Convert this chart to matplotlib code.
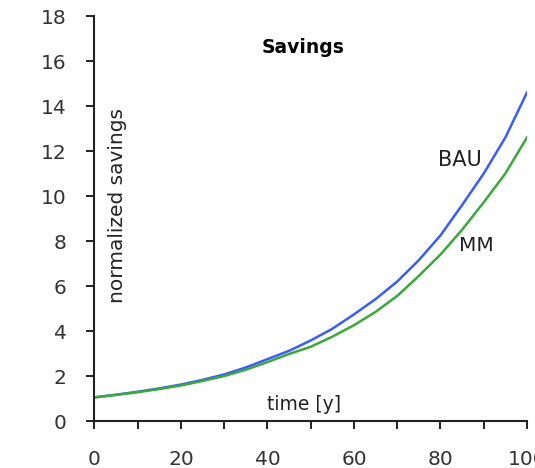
import matplotlib.pyplot as plt
from matplotlib.ticker import MultipleLocator

plt.rcParams['font.family'] = ['DejaVu Sans']

# years and normalized savings for the two scenarios
years = [0, 5, 10, 15, 20, 25, 30, 35, 40, 45, 50, 55, 60, 65, 70, 75, 80, 85, 90, 95, 100]
bau = [1.05, 1.17, 1.30, 1.45, 1.62, 1.83, 2.07, 2.38, 2.75, 3.12, 3.58, 4.10, 4.74,
       5.42, 6.20, 7.15, 8.25, 9.60, 11.0, 12.6, 14.6]
mm = [1.05, 1.16, 1.28, 1.42, 1.58, 1.78, 2.00, 2.28, 2.62, 2.98, 3.30, 3.75, 4.26,
      4.85, 5.56, 6.45, 7.40, 8.50, 9.72, 11.0, 12.6]

fig = plt.figure(figsize=(5.35, 4.68), dpi=100)
ax = fig.add_axes([0.1766, 0.1004, 0.8084, 0.8654])

ax.plot(years, bau, color='#3a5cff', lw=1.8)
ax.plot(years, mm, color='#3aa83a', lw=1.8)

ax.set_xlim(0, 100)
ax.set_ylim(0, 18)
ax.xaxis.set_major_locator(MultipleLocator(20))
ax.xaxis.set_minor_locator(MultipleLocator(10))
ax.yaxis.set_major_locator(MultipleLocator(2))

for s in ['top', 'right']:
    ax.spines[s].set_visible(False)
for s in ['left', 'bottom']:
    ax.spines[s].set_linewidth(1.5)
    ax.spines[s].set_color('#222222')

ax.tick_params(axis='both', which='both', direction='out', length=6, width=1.4,
               color='#222222', labelsize=14.5, labelcolor='#333333')
ax.tick_params(axis='x', which='both', pad=15)
ax.tick_params(axis='y', pad=14)

ax.text(48.2, 16.6, 'Savings', fontsize=13.5, fontweight='bold', ha='center', va='center')
ax.text(84.5, 11.6, 'BAU', fontsize=15, ha='center', va='center', color='#222222')
ax.text(88.3, 7.8, 'MM', fontsize=14.5, ha='center', va='center', color='#222222')
ax.text(5.4, 9.6, 'normalized savings', fontsize=14.5, rotation=90,
        ha='center', va='center', color='#222222')
ax.text(48.4, 0.75, 'time [y]', fontsize=13.5, ha='center', va='center', color='#222222')

fig.savefig('out.png', dpi=100)
